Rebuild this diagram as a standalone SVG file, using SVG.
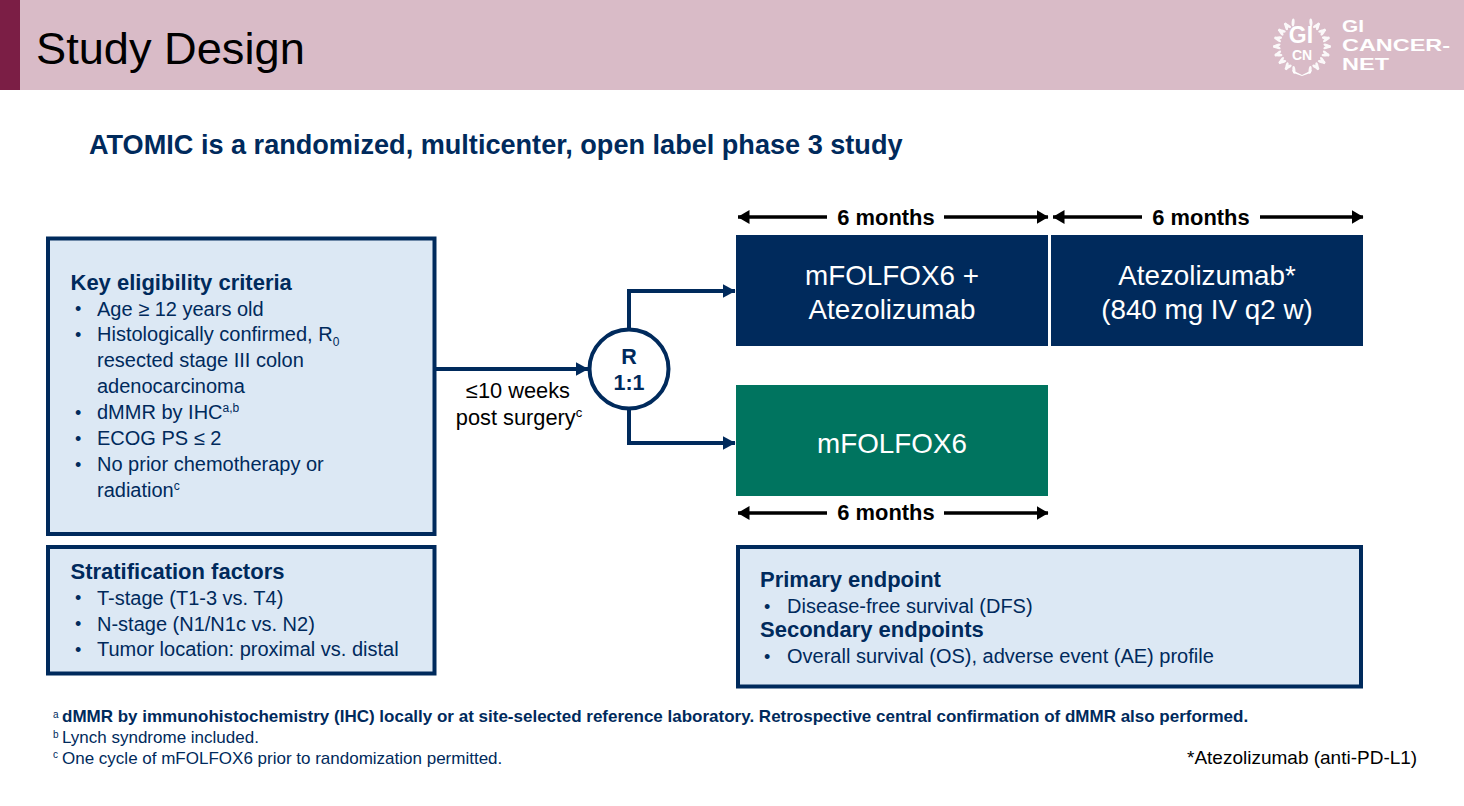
<svg xmlns="http://www.w3.org/2000/svg" width="1464" height="806" viewBox="0 0 1464 806">
<defs>
<marker id="arrowNavy" viewBox="0 0 13 14" refX="12.5" refY="7" markerUnits="userSpaceOnUse" markerWidth="13" markerHeight="14" orient="auto"><path d="M0 0L13 7L0 14Z" fill="#002a5c"/></marker>
<marker id="arrowBlack" viewBox="0 0 12 14" refX="11.5" refY="7" markerUnits="userSpaceOnUse" markerWidth="12" markerHeight="14" orient="auto"><path d="M0 0L12 7L0 14Z" fill="#000"/></marker>
<g id="lf"><ellipse cx="-3.2" cy="-25" rx="1.5" ry="4" transform="rotate(-32 -3.2 -25)"/><ellipse cx="3.2" cy="-25" rx="1.5" ry="4" transform="rotate(32 3.2 -25)"/></g>
</defs>
<style>
text{font-family:"Liberation Sans",Arial,sans-serif}
.box{fill:#dce8f4;stroke:#002a5c;stroke-width:4}
.h{font-size:22px;font-weight:700;fill:#002a5c}
.b{font-size:20px;fill:#002a5c}
.dot{font-size:18px;fill:#002a5c}
.big{font-size:27.8px;fill:#fff;text-anchor:middle}
.mo{font-size:21.9px;font-weight:700;fill:#000;text-anchor:middle}
.fn{font-size:17px;fill:#002a5c}
.sup{font-size:10px;fill:#002a5c}
.conn{fill:none;stroke:#002a5c;stroke-width:4}
.dur{fill:none;stroke:#000;stroke-width:3.5;marker-end:url(#arrowBlack)}
.logo{fill:#fff}
.logot{fill:#fff;font-weight:700}
</style>

<g id="header">
<rect x="0" y="0" width="1464" height="90" fill="#d9bbc7"/>
<rect x="0" y="0" width="20" height="90" fill="#7b1e45"/>
<text x="36" y="64" font-size="45.2" fill="#000">Study Design</text>
</g>

<g id="logo">
<g class="logo" opacity=".9">
<use href="#lf" transform="translate(1302 46) rotate(28)"/>
<use href="#lf" transform="translate(1302 46) rotate(46)"/>
<use href="#lf" transform="translate(1302 46) rotate(64)"/>
<use href="#lf" transform="translate(1302 46) rotate(82)"/>
<use href="#lf" transform="translate(1302 46) rotate(100)"/>
<use href="#lf" transform="translate(1302 46) rotate(118)"/>
<use href="#lf" transform="translate(1302 46) rotate(136)"/>
<use href="#lf" transform="translate(1302 46) rotate(154)"/>
<use href="#lf" transform="translate(1302 46) rotate(-28)"/>
<use href="#lf" transform="translate(1302 46) rotate(-46)"/>
<use href="#lf" transform="translate(1302 46) rotate(-64)"/>
<use href="#lf" transform="translate(1302 46) rotate(-82)"/>
<use href="#lf" transform="translate(1302 46) rotate(-100)"/>
<use href="#lf" transform="translate(1302 46) rotate(-118)"/>
<use href="#lf" transform="translate(1302 46) rotate(-136)"/>
<use href="#lf" transform="translate(1302 46) rotate(-154)"/>
</g>
<path class="logo" d="M1292 70l10 5 10-5-1.5 3-8.500 3-8.500-3z"/>
<text class="logot" x="1301" y="43" font-size="23" text-anchor="middle" style="font-family:'Liberation Sans',sans-serif">GI</text>
<text class="logot" x="1302" y="60" font-size="14" text-anchor="middle" style="font-family:'Liberation Sans',sans-serif">CN</text>
<text class="logot" x="1342" y="32" font-size="17" textLength="22" lengthAdjust="spacingAndGlyphs">GI</text>
<text class="logot" x="1342" y="51" font-size="17" textLength="108" lengthAdjust="spacingAndGlyphs">CANCER-</text>
<text class="logot" x="1342" y="70" font-size="17" textLength="47" lengthAdjust="spacingAndGlyphs">NET</text>
</g>

<g id="subtitle"><text x="89" y="154" font-size="27.1" font-weight="700" fill="#002a5c">ATOMIC is a randomized, multicenter, open label phase 3 study</text></g>

<g id="connectors">
<path class="conn" d="M436 369H588" marker-end="url(#arrowNavy)"/>
<path class="conn" d="M629 330V291H735" marker-end="url(#arrowNavy)"/>
<path class="conn" d="M629 410V443H735" marker-end="url(#arrowNavy)"/>
<path class="dur" d="M827 217H738"/><path class="dur" d="M944 217H1048"/>
<path class="dur" d="M1142 217H1053"/><path class="dur" d="M1260 217H1363"/>
<path class="dur" d="M827 513H738"/><path class="dur" d="M944 513H1048"/>
</g>

<g id="eligibility">
<rect class="box" x="48" y="238.500" width="386.500" height="295.500"/>
<text class="h" x="70.500" y="290">Key eligibility criteria</text>
<g class="dot"><text x="75" y="315">•</text><text x="75" y="341">•</text><text x="75" y="419">•</text><text x="75" y="445">•</text><text x="75" y="471">•</text></g>
<text class="b" x="97" y="315.500">Age ≥ 12 years old</text>
<text class="b" x="97" y="341">Histologically confirmed, R<tspan font-size="12" dy="5">0</tspan></text>
<text class="b" x="97" y="367">resected stage III colon</text>
<text class="b" x="97" y="393">adenocarcinoma</text>
<text class="b" x="97" y="419">dMMR by IHC<tspan font-size="12" dy="-7">a,b</tspan></text>
<text class="b" x="97" y="445">ECOG PS ≤ 2</text>
<text class="b" x="97" y="471">No prior chemotherapy or</text>
<text class="b" x="97" y="497">radiation<tspan font-size="12" dy="-7">c</tspan></text>
</g>

<g id="stratification">
<rect class="box" x="48" y="547" width="386.500" height="126.500"/>
<text class="h" x="70.500" y="579">Stratification factors</text>
<g class="dot"><text x="75" y="604">•</text><text x="75" y="630">•</text><text x="75" y="656">•</text></g>
<text class="b" x="97" y="605">T-stage (T1-3 vs. T4)</text>
<text class="b" x="97" y="630.500">N-stage (N1/N1c vs. N2)</text>
<text class="b" x="97" y="656">Tumor location: proximal vs. distal</text>
</g>

<g id="timing">
<text x="518" y="398" font-size="21.8" fill="#000" text-anchor="middle">≤10 weeks</text>
<text x="519" y="425" font-size="21.8" fill="#000" text-anchor="middle">post surgery<tspan font-size="13" dy="-8">c</tspan></text>
</g>

<g id="randomization">
<circle cx="629" cy="369" r="39.500" fill="#fff" stroke="#002a5c" stroke-width="4"/>
<text x="629" y="364" font-size="21.500" font-weight="700" fill="#002a5c" text-anchor="middle">R</text>
<text x="629" y="390" font-size="21.500" font-weight="700" fill="#002a5c" text-anchor="middle">1:1</text>
</g>

<g id="arm1a">
<rect x="736" y="235" width="312" height="111" fill="#002a5c"/>
<text class="big" x="892" y="285">mFOLFOX6 +</text>
<text class="big" x="892" y="319">Atezolizumab</text>
</g>
<g id="arm1b">
<rect x="1051" y="235" width="312" height="111" fill="#002a5c"/>
<text class="big" x="1207" y="285">Atezolizumab*</text>
<text class="big" x="1207" y="319">(840 mg IV q2 w)</text>
</g>
<g id="arm2">
<rect x="736" y="385" width="312" height="111" fill="#00745f"/>
<text class="big" x="892" y="453">mFOLFOX6</text>
</g>

<g id="durations">
<text class="mo" x="886" y="225">6 months</text>
<text class="mo" x="1201" y="225">6 months</text>
<text class="mo" x="886" y="520">6 months</text>
</g>

<g id="endpoints">
<rect class="box" x="738" y="547" width="623" height="139.500"/>
<text class="h" x="760" y="587">Primary endpoint</text>
<text class="dot" x="764" y="613">•</text>
<text class="b" x="787" y="613">Disease-free survival (DFS)</text>
<text class="h" x="760" y="637">Secondary endpoints</text>
<text class="dot" x="764" y="663">•</text>
<text class="b" x="787" y="663">Overall survival (OS), adverse event (AE) profile</text>
</g>

<g id="footnotes">
<text class="sup" x="53" y="718">a</text>
<text class="fn" x="62" y="722" font-weight="700">dMMR by immunohistochemistry (IHC) locally or at site-selected reference laboratory. Retrospective central confirmation of dMMR also performed.</text>
<text class="sup" x="53" y="738">b</text>
<text class="fn" x="62" y="743">Lynch syndrome included.</text>
<text class="sup" x="53" y="758">c</text>
<text class="fn" x="62" y="764">One cycle of mFOLFOX6 prior to randomization permitted.</text>
<text x="1187" y="764" font-size="19" fill="#000">*Atezolizumab (anti-PD-L1)</text>
</g>
</svg>
